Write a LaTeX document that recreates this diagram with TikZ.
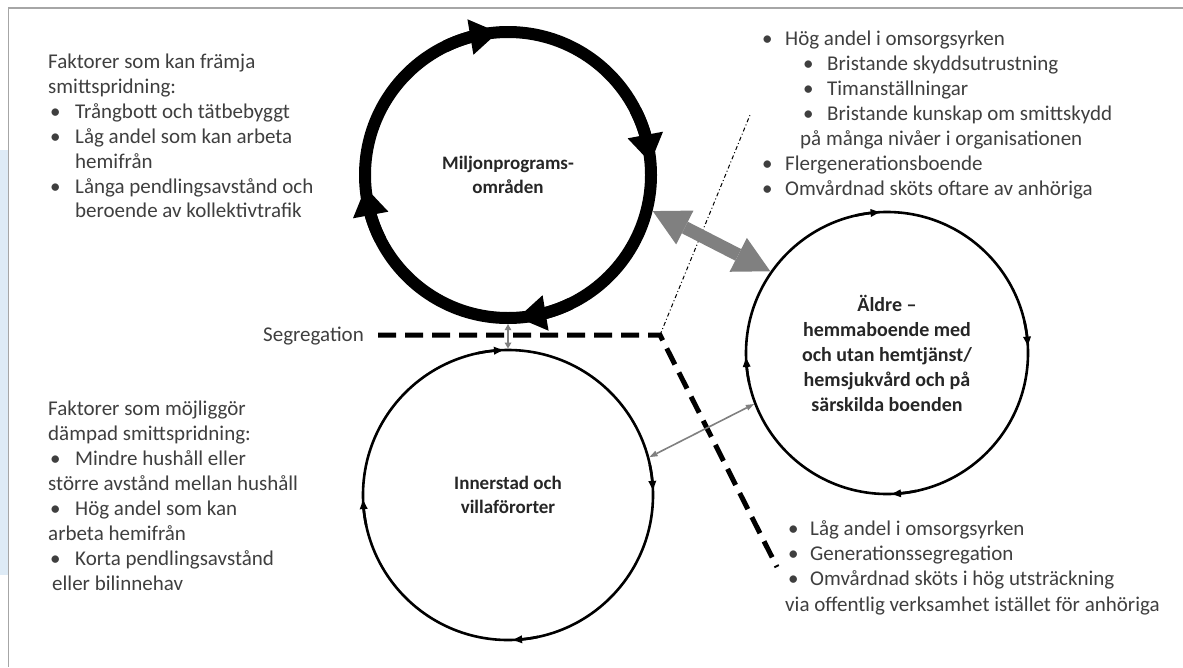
\documentclass[tikz,border=0pt]{standalone}
\usepackage{fontspec}
\setmainfont{Carlito}
\usetikzlibrary{arrows.meta,bending,calc}
\definecolor{txtc}{HTML}{3F3F3F}
\definecolor{lblc}{HTML}{262626}
\definecolor{grayarrow}{HTML}{808080}
\definecolor{framec}{HTML}{A6A6A6}
\definecolor{paleblue}{HTML}{DEEBF6}
\tikzset{
  txt/.style={anchor=base west, inner sep=0pt, text=txtc, font=\fontsize{21}{25}\selectfont},
  seglabel/.style={anchor=base east, inner sep=0pt, text=txtc, font=\fontsize{21}{25}\selectfont},
  ringnode/.style={circle, inner sep=0pt, align=center, text=lblc},
  thickring/.style={line width=12pt, black},
  thickringtip/.style={line width=12pt, black, -{Triangle[length=28pt,width=36pt,line width=0pt]}},
  thinring/.style={line width=2.6pt, black},
  thinringtip/.style={line width=2.6pt, black, -{Triangle[length=9pt,width=8pt,line width=0pt]}},
  bigarrow/.style={line width=13pt, grayarrow, {Triangle[length=36pt,width=38pt,line width=0pt]}-{Triangle[length=36pt,width=38pt,line width=0pt]}},
  thinarrow/.style={line width=1.6pt, grayarrow, {Triangle[length=8pt,width=6pt,line width=0pt]}-{Triangle[length=8pt,width=6pt,line width=0pt]}},
  vertarrow/.style={line width=2.2pt, grayarrow, {Triangle[length=6pt,width=7pt,line width=0pt]}-{Triangle[length=6pt,width=7pt,line width=0pt]}},
  segline/.style={line width=5pt, black, dash pattern=on 18pt off 9pt},
  dashdotline/.style={line width=1pt, black, dash pattern=on 4pt off 2.5pt on 1pt off 2.5pt},
}
\newcommand{\bul}[1]{\makebox[#1][l]{•}}
\begin{document}
\begin{tikzpicture}[x=1pt,y=1pt]
\useasboundingbox (0,0) rectangle (1183,-667);
\fill[white] (0,0) rectangle (1183,-667);
% background decoration
\fill[paleblue] (0,-150) rectangle (8,-575);
\draw[framec, line width=1.5pt] (1183,-8) -- (8.5,-8) -- (8.5,-667);

% circle nodes
\node[ringnode, minimum size=298pt, font=\fontsize{19}{23.5}\selectfont\bfseries] (m) at (508,-175) {Miljonprograms-\\områden};
\node[ringnode, minimum size=292.6pt, font=\fontsize{19}{23.5}\selectfont\bfseries] (i) at (508,-495) {Innerstad och\\villaförorter};
\node[ringnode, minimum size=284.6pt, font=\fontsize{20}{25}\selectfont\bfseries] (a) at (887,-353) {Äldre –\\hemmaboende med\\och utan hemtjänst/\\hemsjukvård och på\\särskilda boenden};

% rings
\draw[thickring] (m.center) circle[radius=143];
\foreach \t in {94,5,-86,185}
  \draw[thickringtip] ($(m.center)+({\t+22}:143)$) arc[start angle=\t+22, end angle=\t, radius=143];
\draw[thinring] (i.center) circle[radius=145];
\foreach \t in {92,2,-88,182}
  \draw[thinringtip] ($(i.center)+({\t+10}:145)$) arc[start angle=\t+10, end angle=\t, radius=145];
\draw[thinring] (a.center) circle[radius=141];
\foreach \t in {93,3,-88,182}
  \draw[thinringtip] ($(a.center)+({\t+10}:141)$) arc[start angle=\t+10, end angle=\t, radius=141];

% segregation line
\coordinate (s0) at (378,-335);
\coordinate (s1) at (660,-335);
\coordinate (s2) at (777,-567);
\coordinate (d1) at (750,-115);
\draw[dashdotline] (s1) -- (d1);
\draw[segline] (s0) -- (s1) -- (s2);
\node[seglabel] (seg) at (364,-341) {Segregation};

% connectors
\draw[bigarrow] (m.-14) -- (a.145);
\draw[thinarrow] (i.15) -- (a.201);
\draw[vertarrow] (m.south) -- (i.north);

% top-left text
\node[txt] (tl1) at (48,-68) {Faktorer som kan främja};
\node[txt] (tl2) at (48,-93) {smittspridning:};
\node[txt] (tl3) at (50,-118) {\bul{25pt}Trångbott och tätbebyggt};
\node[txt] (tl4) at (50,-143) {\bul{25pt}Låg andel som kan arbeta};
\node[txt] (tl5) at (75,-168) {hemifrån};
\node[txt] (tl6) at (50,-193) {\bul{25pt}Långa pendlingsavstånd och};
\node[txt] (tl7) at (75,-217) {beroende av kollektivtrafik};

% bottom-left text
\node[txt] (bl1) at (48,-415) {Faktorer som möjliggör};
\node[txt] (bl2) at (48,-440) {dämpad smittspridning:};
\node[txt] (bl3) at (50,-465) {\bul{25pt}Mindre hushåll eller};
\node[txt] (bl4) at (48,-490) {större avstånd mellan hushåll};
\node[txt] (bl5) at (50,-515) {\bul{25pt}Hög andel som kan};
\node[txt] (bl6) at (48,-540) {arbeta hemifrån};
\node[txt] (bl7) at (50,-565) {\bul{25pt}Korta pendlingsavstånd};
\node[txt] (bl8) at (52,-590) {eller bilinnehav};

% top-right text
\node[txt] (tr1) at (762,-45) {\bul{23pt}Hög andel i omsorgsyrken};
\node[txt] (tr2) at (803,-70) {\bul{24pt}Bristande skyddsutrustning};
\node[txt] (tr3) at (803,-95) {\bul{24pt}Timanställningar};
\node[txt] (tr4) at (803,-120) {\bul{24pt}Bristande kunskap om smittskydd};
\node[txt] (tr5) at (800,-145) {på många nivåer i organisationen};
\node[txt] (tr6) at (762,-170) {\bul{23pt}Flergenerationsboende};
\node[txt] (tr7) at (762,-195) {\bul{23pt}Omvårdnad sköts oftare av anhöriga};

% bottom-right text
\node[txt] (br1) at (788,-535) {\bul{22pt}Låg andel i omsorgsyrken};
\node[txt] (br2) at (788,-560) {\bul{22pt}Generationssegregation};
\node[txt] (br3) at (788,-585) {\bul{22pt}Omvårdnad sköts i hög utsträckning};
\node[txt] (br4) at (785,-611) {via offentlig verksamhet istället för anhöriga};
\end{tikzpicture}
\end{document}
